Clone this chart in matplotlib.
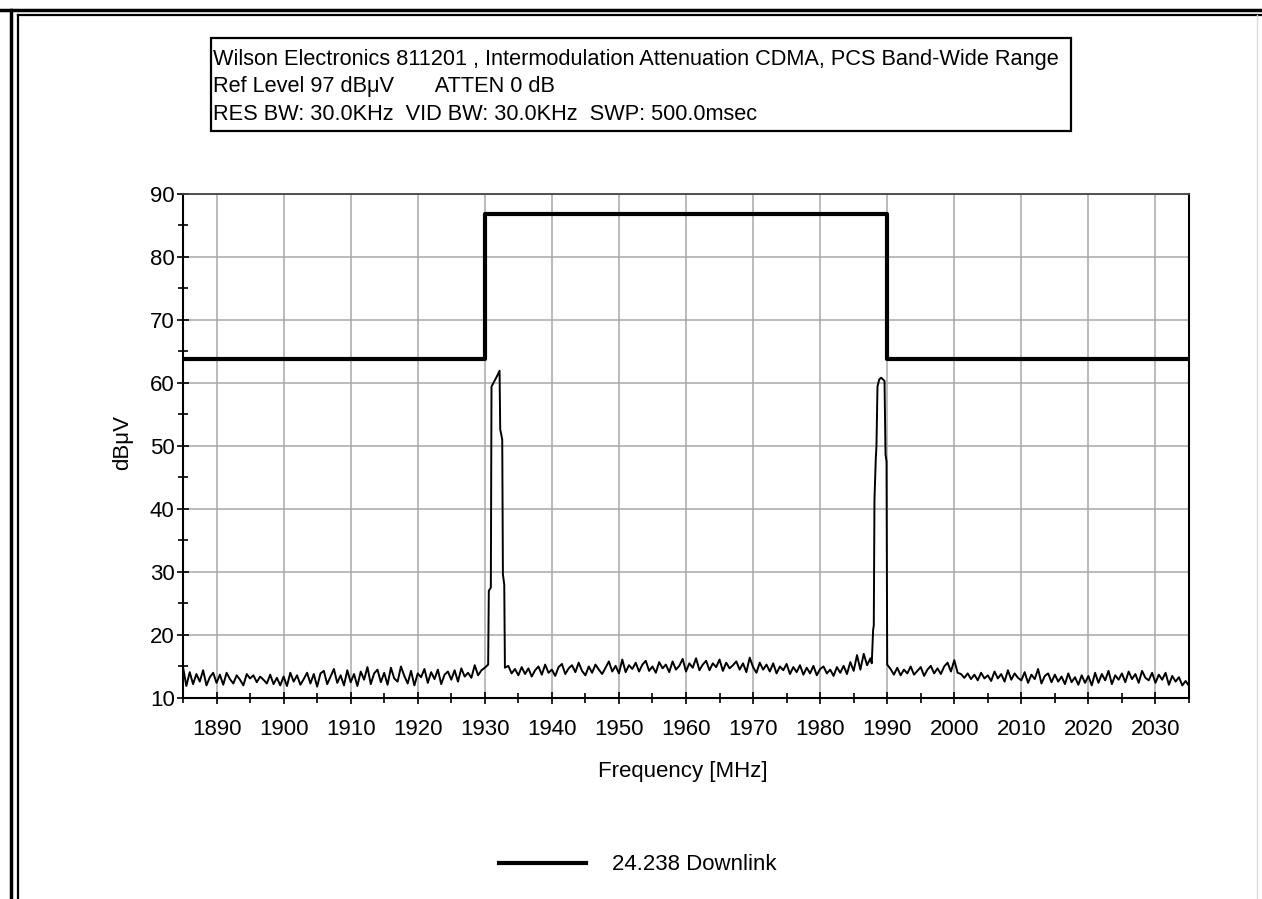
import numpy as np
import matplotlib.pyplot as plt
from matplotlib.lines import Line2D
from matplotlib.patches import Rectangle
from matplotlib.ticker import MultipleLocator

plt.rcParams['font.family'] = ['Liberation Sans', 'DejaVu Sans']

W, H = 1262, 899

# header text
header_lines = [
    'Wilson Electronics 811201 , Intermodulation Attenuation CDMA, PCS Band-Wide Range',
    'Ref Level 97 dBμV       ATTEN 0 dB',
    'RES BW: 30.0KHz  VID BW: 30.0KHz  SWP: 500.0msec',
]
legend_label = '24.238 Downlink'

# limit mask (step)
limit_freq = [1885, 1930, 1930, 1990, 1990, 2035]
limit_level = [63.8, 63.8, 86.8, 86.8, 63.8, 63.8]

# sweep step of the noise floor parts
step = 0.5

# noise floor 1885.0 - 1930.5 MHz
floor_lo_start = 1885.0
floor_lo = [
    14.9, 11.9, 14.1, 12.2, 13.8, 12.6, 14.4, 12.0, 13.3, 14.0,
    12.4, 13.7, 12.1, 14.0, 13.0, 12.3, 13.6, 12.9, 12.0, 13.8,
    13.1, 13.6, 12.5, 13.4, 12.9, 12.3, 13.7, 12.2, 13.2, 12.0,
    13.4, 11.9, 14.0, 12.6, 13.6, 12.1, 13.0, 14.0, 12.3, 13.8,
    11.8, 13.9, 14.3, 12.2, 13.4, 14.6, 12.4, 13.6, 12.0, 14.4,
    12.5, 13.8, 11.9, 14.2, 12.9, 14.9, 12.2, 13.9, 14.5, 12.5,
    14.0, 12.1, 14.8, 13.1, 12.6, 15.0, 13.5, 12.3, 14.3, 12.0,
    13.9, 13.3, 14.6, 12.4, 14.1, 13.0, 14.5, 12.2, 13.7, 14.2,
    12.9, 14.4, 12.6, 14.7, 13.4, 14.0, 13.2, 15.2, 13.6, 14.4,
    14.8, 15.3,
]

# first carrier
peak1_freq = [1930.6, 1930.9, 1931.0, 1931.4, 1931.8, 1932.2, 1932.3, 1932.6, 1932.7, 1932.9, 1933.0]
peak1_level = [27.0, 27.5, 59.4, 60.2, 61.0, 61.9, 52.6, 51.0, 29.6, 28.0, 14.8]

# noise floor 1933.5 - 1987.5 MHz
floor_mid_start = 1933.5
floor_mid = [
    15.1, 13.9, 14.6, 13.6, 14.9, 13.8, 14.7, 13.4, 14.4,
    15.0, 13.7, 15.3, 14.0, 14.5, 13.5, 14.9, 15.4, 13.8, 14.7,
    15.2, 14.1, 15.6, 14.3, 13.6, 15.0, 14.0, 15.3, 14.5, 13.8,
    14.8, 15.8, 14.2, 15.1, 13.9, 16.1, 14.1, 15.2, 14.6, 15.6,
    14.2, 15.3, 15.9, 14.3, 15.0, 14.0, 15.7, 14.7, 15.3, 14.1,
    15.8, 14.5, 15.1, 16.2, 14.2, 15.5, 14.8, 16.3, 14.4, 15.3,
    15.9, 14.4, 15.5, 14.9, 16.1, 14.3, 15.6, 14.7, 15.2, 15.8,
    14.5, 15.5, 14.1, 16.4, 14.9, 14.0, 15.6, 14.5, 15.3, 14.2,
    15.5, 13.9, 15.0, 14.4, 15.4, 13.8, 14.9, 14.1, 15.2, 13.7,
    14.8, 13.9, 15.1, 13.6, 14.6, 15.0, 13.9, 14.5, 13.5, 14.9,
    14.0, 15.1, 13.8, 15.7, 14.3, 16.8, 14.5, 17.0, 15.2, 16.3,
]

# second carrier
peak2_freq = [1987.7, 1987.9, 1988.0, 1988.1, 1988.3, 1988.4, 1988.55, 1988.8, 1989.1, 1989.6, 1989.75, 1989.9, 1990.0]
peak2_level = [15.5, 20.8, 21.5, 41.4, 48.0, 50.0, 59.4, 60.5, 60.8, 60.3, 48.6, 47.5, 15.3]

# noise floor 1990.5 - 2035.0 MHz
floor_hi_start = 1990.5
floor_hi = [
    14.6, 13.7, 14.8, 13.6, 14.5, 13.9, 15.0, 13.7, 14.3,
    14.9, 13.5, 14.5, 15.1, 13.9, 14.7, 13.8, 15.0, 15.6, 14.2,
    16.0, 14.0, 13.8, 13.2, 13.9, 13.0, 13.7, 12.8, 14.0, 13.1,
    13.6, 12.7, 14.2, 13.1, 13.8, 12.6, 14.4, 12.9, 13.9, 13.2,
    12.8, 14.1, 12.4, 13.7, 13.0, 14.6, 12.3, 13.5, 13.9, 12.5,
    13.7, 12.6, 13.4, 12.2, 13.9, 12.5, 13.3, 12.1, 13.6, 12.4,
    13.5, 12.0, 14.0, 12.4, 13.8, 12.8, 14.3, 12.2, 13.6, 12.9,
    13.9, 12.5, 14.2, 13.0, 13.8, 12.4, 14.3, 13.2, 12.8, 14.0,
    12.4, 13.7, 12.9, 14.0, 12.1, 13.5, 12.6, 13.3, 12.0, 12.7,
    11.9,
]

# build the trace
f_lo = floor_lo_start + step * np.arange(len(floor_lo))
f_mid = floor_mid_start + step * np.arange(len(floor_mid))
f_hi = floor_hi_start + step * np.arange(len(floor_hi))
trace_freq = np.concatenate([f_lo, peak1_freq, f_mid, peak2_freq, f_hi])
trace_level = np.concatenate([floor_lo, peak1_level, floor_mid, peak2_level, floor_hi])

fig = plt.figure(figsize=(W / 100, H / 100), dpi=100)
ax = fig.add_axes([183 / W, 1 - 698 / H, 1006 / W, 504.4 / H])

ax.plot(trace_freq, trace_level, color='black', lw=1.4)
ax.plot(limit_freq, limit_level, color='black', lw=3.0, label=legend_label)

ax.set_xlim(1885, 2035)
ax.set_ylim(10, 90)
ax.set_xticks(np.arange(1890, 2031, 10))
ax.set_yticks(np.arange(10, 91, 10))
ax.xaxis.set_minor_locator(MultipleLocator(5))
ax.yaxis.set_minor_locator(MultipleLocator(5))
ax.grid(True, which='major', color='#a8a8a8', lw=1.1)
ax.set_axisbelow(True)

ax.tick_params(which='both', direction='inout', width=1.2, color='black')
ax.tick_params(which='major', length=8)
ax.tick_params(which='minor', length=7)
ax.tick_params(axis='x', which='major', labelsize=16, pad=11)
ax.tick_params(axis='y', which='major', labelsize=16, pad=2)

for side in ['left', 'bottom', 'right']:
    ax.spines[side].set_linewidth(1.5)
    ax.spines[side].set_color('black')
ax.spines['top'].set_linewidth(1.3)
ax.spines['top'].set_color('#444444')

ax.set_xlabel('Frequency [MHz]', fontsize=16)
ax.xaxis.set_label_coords(0.4965, (698 - 772) / 504.4)
ax.xaxis.label.set_va('center')
ax.set_ylabel('dBμV', fontsize=16)
ax.yaxis.set_label_coords((123 - 183) / 1006, (698 - 443) / 504.4)
ax.yaxis.label.set_va('center')

# header box
fig.add_artist(Rectangle((210.5 / W, 1 - 131 / H), (1071 - 210.5) / W, (131 - 37.5) / H,
                         transform=fig.transFigure, fill=False, lw=1.6, ec='black'))
for i, line in enumerate(header_lines):
    fig.text(213 / W, 1 - (59 + 27.5 * i) / H, line, fontsize=15.7, va='center', ha='left')

# legend
fig.legend(loc='center', bbox_to_anchor=(638 / W, 1 - 865 / H), frameon=False,
           fontsize=16, handlelength=3.9, handletextpad=1.2)

# double frame round the picture
fig.add_artist(Line2D([0, 1], [1 - 9.5 / H, 1 - 9.5 / H], transform=fig.transFigure, color='black', lw=2.5))
fig.add_artist(Line2D([10.5 / W, 10.5 / W], [0, 1 - 9.5 / H], transform=fig.transFigure, color='black', lw=2.5))
fig.add_artist(Line2D([17.5 / W, 1], [1 - 15 / H, 1 - 15 / H], transform=fig.transFigure, color='black', lw=1.6))
fig.add_artist(Line2D([17.5 / W, 17.5 / W], [0, 1 - 15 / H], transform=fig.transFigure, color='black', lw=1.6))
fig.add_artist(Line2D([1257 / W, 1257 / W], [0, 1 - 15 / H], transform=fig.transFigure, color='#dddddd', lw=1.0))

fig.savefig('out.png', dpi=100)
